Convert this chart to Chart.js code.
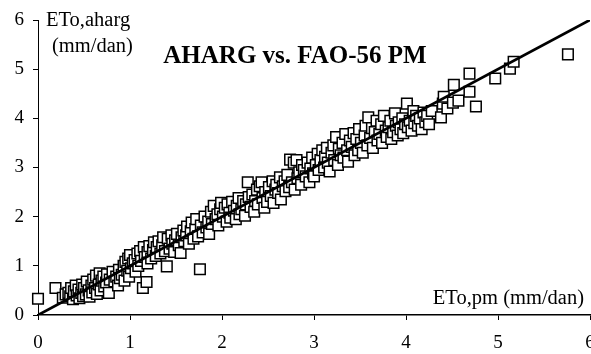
<!DOCTYPE html>
<html lang="en">
  <head>
    <meta charset="UTF-8" />
    <title>AHARG vs. FAO-56 PM</title>
    <style>
      html, body { margin: 0; padding: 0; background: #fff; }
      .container { width: 591px; height: 354px; }
    </style>
  </head>
  <body>
    <div class="container">
      <canvas id="myChart" width="591" height="354"></canvas>
    </div>

    <script src="https://cdn.jsdelivr.net/npm/chart.js"></script>

    <script>
      // ETo by FAO-56 PM (x) and by AHARG (y), mm/dan
      const etoPm = [
        0.00, 0.19, 0.27, 0.30,
        0.33, 0.35, 0.36, 0.38, 0.39,
        0.41, 0.42, 0.44, 0.45, 0.47, 0.48, 0.49,
        0.50, 0.52, 0.53, 0.55, 0.56, 0.58, 0.59,
        0.60, 0.62, 0.63, 0.64, 0.66, 0.67, 0.68, 0.69,
        0.71, 0.72, 0.74, 0.75, 0.77, 0.78,
        0.81, 0.83, 0.85, 0.87, 0.88, 0.89,
        0.91, 0.93, 0.94, 0.95, 0.97, 0.98, 0.99,
        1.00, 1.01, 1.03, 1.05, 1.06, 1.08, 1.09,
        1.11, 1.12, 1.14, 1.15, 1.16, 1.18, 1.19, 1.19,
        1.21, 1.23, 1.25, 1.26, 1.28, 1.29,
        1.31, 1.33, 1.35, 1.36, 1.38, 1.40,
        1.41, 1.43, 1.45, 1.46, 1.48, 1.49,
        1.51, 1.53, 1.55, 1.56, 1.58, 1.59,
        1.61, 1.62, 1.64, 1.66, 1.67, 1.69,
        1.71, 1.72, 1.74, 1.76, 1.77, 1.79,
        1.81, 1.83, 1.85, 1.86, 1.88, 1.89,
        1.91, 1.93, 1.95, 1.96, 1.98, 1.99,
        2.01, 2.03, 2.05, 2.06, 2.08, 2.09,
        2.11, 2.13, 2.15, 2.16, 2.18, 2.19,
        2.21, 2.23, 2.25, 2.26, 2.28, 2.29,
        2.31, 2.33, 2.35, 2.36, 2.38, 2.39,
        2.41, 2.43, 2.44, 2.46, 2.47, 2.49,
        2.51, 2.53, 2.55, 2.56, 2.58, 2.59,
        2.61, 2.63, 2.64, 2.66, 2.68, 2.69,
        2.71, 2.73, 2.74, 2.76, 2.78, 2.79,
        2.81, 2.82, 2.84, 2.86, 2.87, 2.89,
        2.91, 2.93, 2.95, 2.96, 2.98, 2.99,
        3.00, 3.02, 3.04, 3.05, 3.07, 3.09,
        3.11, 3.12, 3.14, 3.15, 3.17, 3.19,
        3.21, 3.22, 3.24, 3.26, 3.27, 3.29,
        3.31, 3.32, 3.34, 3.36, 3.37, 3.39,
        3.41, 3.43, 3.44, 3.46, 3.48, 3.49,
        3.51, 3.53, 3.55, 3.56, 3.58, 3.59,
        3.61, 3.63, 3.64, 3.66, 3.68, 3.69,
        3.71, 3.73, 3.74, 3.76, 3.78, 3.79,
        3.81, 3.83, 3.84, 3.86, 3.88, 3.89,
        3.91, 3.92, 3.94, 3.96, 3.97, 3.99,
        4.01, 4.02, 4.04, 4.06, 4.08, 4.09,
        4.11, 4.13, 4.15, 4.17, 4.19,
        4.21, 4.23, 4.25, 4.28,
        4.38, 4.40, 4.41, 4.45, 4.51, 4.52, 4.57,
        4.69, 4.69, 4.76, 4.97, 5.13, 5.17, 5.76
      ];
      const etoAharg = [
        0.33, 0.55, 0.35, 0.42,
        0.45, 0.38, 0.55, 0.32, 0.48,
        0.60, 0.40, 0.52, 0.34, 0.45, 0.62, 0.38,
        0.55, 0.42, 0.68, 0.50, 0.37, 0.60, 0.46,
        0.72, 0.55, 0.80, 0.43, 0.62, 0.85, 0.50, 0.70,
        0.78, 0.58, 0.66, 0.83, 0.45, 0.72,
        0.88, 0.68, 0.78, 0.60, 0.92, 0.75,
        0.82, 1.00, 0.70, 1.08, 0.90, 1.15, 0.78,
        1.22, 0.95, 1.05, 1.12, 0.88, 1.25, 1.00,
        1.30, 1.10, 0.55, 1.38, 1.18, 0.67, 1.28, 1.05,
        1.40, 1.15, 1.32, 1.48, 1.20, 1.38,
        1.50, 1.25, 1.42, 1.58, 1.30, 0.99,
        1.55, 1.35, 1.62, 1.45, 1.28, 1.52,
        1.65, 1.42, 1.26, 1.58, 1.72, 1.50,
        1.62, 1.80, 1.45, 1.70, 1.88, 1.55,
        1.75, 1.95, 1.60, 0.93, 1.82, 1.68,
        2.00, 1.78, 1.90, 1.65, 2.10, 1.85,
        2.22, 1.95, 2.05, 1.82, 2.15, 2.28,
        2.00, 2.18, 1.90, 2.25, 2.08, 1.98,
        2.30, 2.12, 1.95, 2.22, 2.38, 2.05,
        2.15, 2.32, 2.02, 2.25, 2.70, 2.40,
        2.20, 2.45, 2.10, 2.32, 2.55, 2.25,
        2.62, 2.70, 2.38, 2.18, 2.50, 2.30,
        2.60, 2.42, 2.72, 2.28, 2.55, 2.65,
        2.48, 2.80, 2.35, 2.62, 2.72, 2.52,
        2.85, 2.60, 3.16, 2.70, 3.10, 2.55,
        3.15, 2.78, 2.90, 2.65, 3.05, 2.95,
        2.82, 3.10, 2.70, 2.98, 3.20, 2.88,
        2.82, 3.05, 3.28, 2.95, 3.15, 3.35,
        3.00, 3.22, 3.40, 3.10, 2.92, 3.30,
        3.45, 3.15, 3.62, 3.05, 3.38, 3.25,
        3.50, 3.20, 3.68, 3.35, 3.12, 3.55,
        3.42, 3.70, 3.25, 3.58, 3.35, 3.78,
        3.50, 3.30, 3.65, 3.85, 3.45, 4.02,
        3.60, 3.80, 3.40, 3.72, 3.95, 3.55,
        3.68, 3.88, 3.50, 4.05, 3.75, 3.62,
        3.82, 3.95, 3.58, 3.72, 4.10, 3.85,
        3.65, 3.92, 3.78, 4.00, 3.70, 3.88,
        4.30, 3.82, 3.95, 3.75, 4.15, 3.90,
        4.05, 3.85, 4.00, 3.78, 4.12,
        3.92, 4.05, 3.88, 4.15,
        4.02, 4.30, 4.44, 4.20, 4.32, 4.68, 4.36,
        4.91, 4.54, 4.24, 4.81, 5.01, 5.15, 5.30
      ];
      // 1:1 line ends
      const lineX = [0, 6];
      const lineY = [0, 6];
      const ticks = [0, 1, 2, 3, 4, 5, 6];

      const points = etoPm.map((x, i) => ({ x: x, y: etoAharg[i] }));
      const oneToOne = lineX.map((x, i) => ({ x: x, y: lineY[i] }));

      const serif = "'Liberation Serif', 'Times New Roman', serif";

      // text inside the plot
      const chartText = {
        id: "chartText",
        afterDraw(chart) {
          const { ctx } = chart;
          ctx.save();
          ctx.fillStyle = "#000";
          ctx.textBaseline = "middle";

          ctx.font = `bold 25px ${serif}`;
          ctx.textAlign = "center";
          ctx.fillText("AHARG vs. FAO-56 PM", 295, 57);

          ctx.font = `20.5px ${serif}`;
          ctx.textAlign = "left";
          ctx.fillText("ETo,aharg", 46, 21);
          ctx.fillText("(mm/dan)", 52, 47);

          ctx.textAlign = "right";
          ctx.fillText("ETo,pm (mm/dan)", 584, 299);
          ctx.restore();
        },
      };

      const ctx = document.getElementById("myChart").getContext("2d");
      new Chart(ctx, {
        type: "scatter",
        data: {
          datasets: [
            {
              type: "line",
              data: oneToOne,
              borderColor: "#000",
              borderWidth: 2.8,
              pointRadius: 0,
              fill: false,
              order: 0,
            },
            {
              data: points,
              pointStyle: "rect",
              pointRadius: 7.5,
              pointBorderWidth: 1.5,
              pointBorderColor: "#000",
              pointBackgroundColor: "#fff",
              clip: false,
              order: 1,
            },
          ],
        },
        options: {
          responsive: false,
          animation: false,
          layout: {
            autoPadding: false,
            padding: { top: 20, right: 1, left: 0, bottom: 0 },
          },
          plugins: {
            legend: { display: false },
            tooltip: { enabled: false },
          },
          scales: {
            x: {
              type: "linear",
              min: 0,
              max: 6,
              afterBuildTicks(axis) {
                axis.ticks = ticks.map((v) => ({ value: v }));
              },
              afterFit(axis) {
                axis.height = 39;
                axis.paddingLeft = 0;
                axis.paddingRight = 0;
              },
              border: { display: true, color: "#000", width: 1.5 },
              grid: {
                drawOnChartArea: false,
                drawTicks: true,
                tickLength: 5,
                color: "#000",
                lineWidth: 1,
              },
              ticks: {
                color: "#000",
                padding: 12,
                maxRotation: 0,
                font: { family: serif, size: 19 },
              },
            },
            y: {
              type: "linear",
              min: 0,
              max: 6,
              afterBuildTicks(axis) {
                axis.ticks = ticks.map((v) => ({ value: v }));
              },
              afterFit(axis) {
                axis.width = 38;
                axis.paddingTop = 0;
                axis.paddingBottom = 0;
              },
              border: { display: true, color: "#000", width: 1 },
              grid: {
                drawOnChartArea: false,
                drawTicks: true,
                tickLength: 5,
                color: "#000",
                lineWidth: 1,
              },
              ticks: {
                color: "#000",
                padding: 9,
                font: { family: serif, size: 19 },
              },
            },
          },
        },
        plugins: [chartText],
      });
    </script>
  </body>
</html>
